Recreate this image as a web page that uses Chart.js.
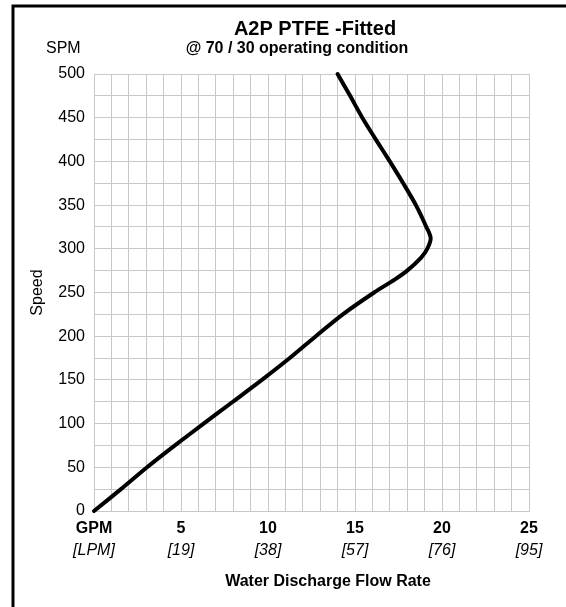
<!DOCTYPE html>
<html>
<head>
<meta charset="utf-8">
<title>A2P PTFE-Fitted</title>
<script src="https://cdn.jsdelivr.net/npm/chart.js@4.4.1/dist/chart.umd.min.js"></script>
<style>
  html, body { margin: 0; padding: 0; background: #fff; }
  #wrap { width: 566px; height: 607px; }
</style>
</head>
<body>
<div id="wrap"><canvas id="pumpChart" width="566" height="607"></canvas></div>
<script>
// curve: flow (GPM) at each speed (SPM)
const speedSpm = [0, 25, 50, 75, 100, 125, 150, 175, 200, 225, 250, 265, 275, 290, 300, 312, 325, 350, 375, 400, 425, 450, 475, 500];
const flowGpm = [0, 1.55, 3.05, 4.65, 6.3, 7.98, 9.65, 11.25, 12.75, 14.3, 16.1, 17.3, 18.0, 18.8, 19.15, 19.35, 19.1, 18.5, 17.77, 17.0, 16.2, 15.42, 14.72, 14.0];

// bottom axis labels, one per 5 GPM
const gpmLabels = ['GPM', '5', '10', '15', '20', '25'];
const lpmLabels = ['[LPM]', '[19]', '[38]', '[57]', '[76]', '[95]'];

const chartTitle = 'A2P PTFE -Fitted';
const chartSubtitle = '@ 70 / 30 operating condition';
const yUnit = 'SPM';
const yTitle = 'Speed';
const xTitle = 'Water Discharge Flow Rate';

const FONT = "'Liberation Sans', Arial, Helvetica, sans-serif";
Chart.defaults.font.family = FONT;
Chart.defaults.color = '#000';

const GRID = '#c8c8c8';

// frame + headings drawn straight onto the canvas
const decorPlugin = {
    id: 'decor',
    afterDraw(chart) {
        const ctx = chart.ctx;
        ctx.save();
        ctx.strokeStyle = '#000';
        ctx.lineWidth = 3;
        ctx.beginPath();
        ctx.moveTo(13, 607);
        ctx.lineTo(13, 6);
        ctx.lineTo(566, 6);
        ctx.stroke();

        ctx.fillStyle = '#000';
        ctx.textBaseline = 'alphabetic';
        ctx.textAlign = 'center';
        ctx.font = 'bold 20px ' + FONT;
        ctx.fillText(chartTitle, 315, 35);
        ctx.font = 'bold 16px ' + FONT;
        ctx.fillText(chartSubtitle, 297, 53);
        ctx.fillText(xTitle, 328, 586);

        ctx.textAlign = 'left';
        ctx.font = '16px ' + FONT;
        ctx.fillText(yUnit, 46, 53);
        ctx.restore();
    }
};

const ctx = document.getElementById('pumpChart');
new Chart(ctx, {
    type: 'scatter',
    data: {
        datasets: [{
            label: 'A2P PTFE-Fitted',
            data: flowGpm.map((g, i) => ({ x: g, y: speedSpm[i] })),
            showLine: true,
            borderColor: '#000',
            borderWidth: 4,
            borderCapStyle: 'round',
            pointRadius: 0,
            tension: 0.3,
            clip: false
        }]
    },
    options: {
        responsive: false,
        animation: false,
        layout: {
            padding: { left: 0, top: 74, right: 37, bottom: 0 }
        },
        plugins: {
            legend: { display: false },
            tooltip: { enabled: false }
        },
        scales: {
            x: {
                type: 'linear',
                position: 'bottom',
                weight: 0,
                min: 0,
                max: 25,
                grid: { color: GRID, lineWidth: 1, drawTicks: false },
                border: { color: GRID },
                ticks: {
                    stepSize: 1,
                    autoSkip: false,
                    maxRotation: 0,
                    padding: 8,
                    font: { size: 16, weight: 'bold' },
                    callback: v => (v % 5 === 0 ? gpmLabels[v / 5] : '')
                },
                afterFit: scale => { scale.height = 28; }
            },
            x2: {
                type: 'linear',
                position: 'bottom',
                weight: 1,
                min: 0,
                max: 25,
                grid: { display: false, drawTicks: false },
                border: { display: false },
                ticks: {
                    stepSize: 5,
                    autoSkip: false,
                    maxRotation: 0,
                    padding: 2,
                    font: { size: 16, style: 'italic' },
                    callback: v => lpmLabels[v / 5]
                },
                afterFit: scale => { scale.height = 68; }
            },
            y: {
                type: 'linear',
                min: 0,
                max: 500,
                grid: { color: GRID, lineWidth: 1, drawTicks: false },
                border: { color: GRID },
                ticks: {
                    stepSize: 25,
                    autoSkip: false,
                    padding: 9,
                    font: { size: 16 },
                    callback: v => (v % 50 === 0 ? v : '')
                },
                title: {
                    display: true,
                    text: yTitle,
                    font: { size: 16 },
                    padding: { top: 28, bottom: 0 }
                },
                afterFit: scale => { scale.width = 94; }
            }
        }
    },
    plugins: [decorPlugin]
});
</script>
</body>
</html>
